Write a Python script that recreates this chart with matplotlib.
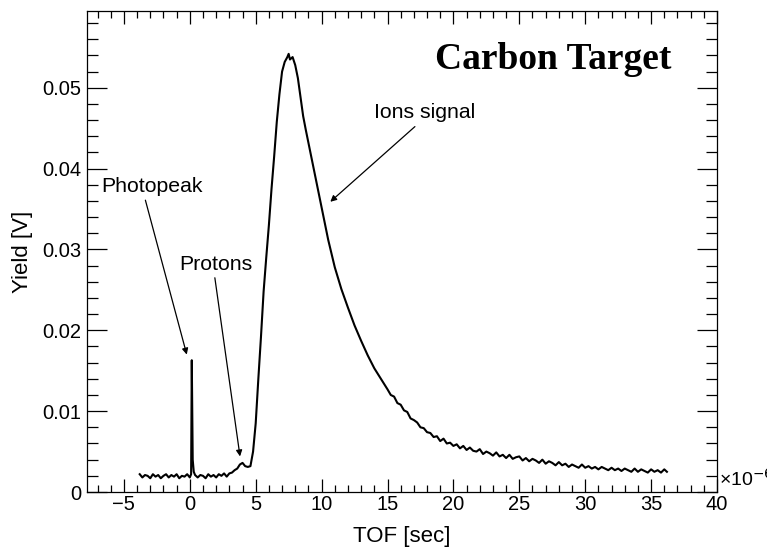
import matplotlib
matplotlib.use("Agg")
import matplotlib.pyplot as plt
from matplotlib.ticker import MultipleLocator

plt.rcParams['font.family'] = ['Liberation Sans', 'DejaVu Sans']

# --- data (TOF in microseconds, yield in volts) ---
tof_pre = [-3.8, -3.6, -3.4, -3.2, -3.0, -2.8, -2.6, -2.4, -2.2, -2.0,
           -1.8, -1.6, -1.4, -1.2, -1.0, -0.8, -0.6, -0.4, -0.2, 0.0,
           0.10, 0.15, 0.22, 0.3, 0.4,
           0.6, 0.8, 1.0, 1.2, 1.4, 1.6, 1.8, 2.0, 2.2, 2.4, 2.6, 2.8,
           3.0, 3.2, 3.4, 3.6, 3.8, 4.0, 4.2, 4.4]
yield_pre = [0.0022, 0.0018, 0.0021, 0.0020, 0.0017, 0.0022, 0.0019, 0.0021, 0.0017, 0.0020,
             0.0022, 0.0018, 0.0021, 0.0019, 0.0022, 0.0017, 0.0020, 0.0019, 0.0022, 0.0018,
             0.0022, 0.0163, 0.0040, 0.0025, 0.0021,
             0.0018, 0.0021, 0.0020, 0.0017, 0.0022, 0.0019, 0.0021, 0.0018, 0.0022, 0.0020, 0.0023, 0.0019,
             0.0023, 0.0024, 0.0027, 0.0029, 0.0034, 0.0036, 0.0032, 0.0031]

tof_pulse = [4.6, 4.8, 5.0, 5.2, 5.4, 5.6, 5.8, 6.0, 6.2, 6.4, 6.6, 6.8,
             7.0, 7.2, 7.4, 7.5, 7.6, 7.8, 8.0, 8.2, 8.4, 8.6, 8.8, 9.0,
             9.5, 10.0, 10.5, 11.0, 11.5, 12.0, 12.5, 13.0, 13.5, 14.0, 14.5]
yield_pulse = [0.0032, 0.0050, 0.0085, 0.0140, 0.0192, 0.0248, 0.0290, 0.0330, 0.0375, 0.0415, 0.0458, 0.0492,
               0.0520, 0.0532, 0.0538, 0.0542, 0.0535, 0.0538, 0.0528, 0.0512, 0.0488, 0.0465, 0.0448, 0.0432,
               0.0392, 0.0352, 0.0312, 0.0278, 0.0251, 0.0228, 0.0206, 0.0187, 0.0169, 0.0153, 0.0140]

tof_tail = [15.0, 15.25, 15.5, 15.75, 16.0, 16.25, 16.5, 16.75, 17.0, 17.25, 17.5, 17.75,
            18.0, 18.25, 18.5, 18.75, 19.0, 19.25, 19.5, 19.75, 20.0, 20.25, 20.5, 20.75,
            21.0, 21.25, 21.5, 21.75, 22.0, 22.25, 22.5, 22.75, 23.0, 23.25, 23.5, 23.75,
            24.0, 24.25, 24.5, 24.75, 25.0, 25.25, 25.5, 25.75, 26.0, 26.25, 26.5, 26.75,
            27.0, 27.25, 27.5, 27.75, 28.0, 28.25, 28.5, 28.75, 29.0, 29.25, 29.5, 29.75,
            30.0, 30.25, 30.5, 30.75, 31.0, 31.25, 31.5, 31.75, 32.0, 32.25, 32.5, 32.75,
            33.0, 33.25, 33.5, 33.75, 34.0, 34.25, 34.5, 34.75, 35.0, 35.25, 35.5, 35.75,
            36.0, 36.2]
yield_tail = [0.0127, 0.0120, 0.0118, 0.0110, 0.0108, 0.0101, 0.0099, 0.0091, 0.0089, 0.0086, 0.0080, 0.0079,
              0.0074, 0.0073, 0.0068, 0.0069, 0.0063, 0.0066, 0.0060, 0.0061, 0.0057, 0.0059, 0.0054, 0.0057,
              0.0052, 0.0055, 0.0051, 0.0050, 0.0053, 0.0047, 0.0050, 0.0048, 0.0045, 0.0049, 0.0044, 0.0046,
              0.0042, 0.0046, 0.0041, 0.0043, 0.0044, 0.0039, 0.0042, 0.0038, 0.0041, 0.0039, 0.0036, 0.0040,
              0.0035, 0.0038, 0.0036, 0.0033, 0.0037, 0.0033, 0.0035, 0.0031, 0.0034, 0.0032, 0.0030, 0.0034,
              0.0030, 0.0032, 0.0029, 0.0031, 0.0028, 0.0031, 0.0029, 0.0027, 0.0030, 0.0027, 0.0029, 0.0026,
              0.0029, 0.0027, 0.0025, 0.0029, 0.0025, 0.0028, 0.0026, 0.0024, 0.0028, 0.0025, 0.0027, 0.0024,
              0.0028, 0.0025]

x_ticks = [-5, 0, 5, 10, 15, 20, 25, 30, 35, 40]
y_ticks = [0, 0.01, 0.02, 0.03, 0.04, 0.05]
y_tick_labels = ["0", "0.01", "0.02", "0.03", "0.04", "0.05"]

tof = tof_pre + tof_pulse + tof_tail
yld = yield_pre + yield_pulse + yield_tail

fig = plt.figure(figsize=(7.67, 5.49), dpi=100)
ax = fig.add_axes([87/767, 57/549, 630/767, 481/549])

ax.plot(tof, yld, color='black', lw=1.5)

ax.set_xlim(-7.8, 40)
ax.set_ylim(0, 0.0595)
ax.set_xticks(x_ticks)
ax.set_xticklabels([f"{t:g}".replace('-', '\u2212') for t in x_ticks])
ax.set_yticks(y_ticks)
ax.set_yticklabels(y_tick_labels)
ax.xaxis.set_minor_locator(MultipleLocator(1))
ax.yaxis.set_minor_locator(MultipleLocator(0.002))

ax.tick_params(axis='x', which='major', direction='in', length=9.7, width=0.9,
               top=True, bottom=True, labelsize=14.5, pad=2)
ax.tick_params(axis='x', which='minor', direction='in', length=5, width=0.9,
               top=True, bottom=True)
ax.tick_params(axis='y', which='major', direction='in', length=14.4, width=0.9,
               left=True, right=True, labelsize=14.5, pad=4)
ax.tick_params(axis='y', which='minor', direction='in', length=7.9, width=0.9,
               left=True, right=True)
for s in ax.spines.values():
    s.set_linewidth(0.9)

ax.set_xlabel("TOF [sec]", fontsize=16, labelpad=9)
ax.set_ylabel("Yield [V]", fontsize=16, labelpad=7)

ax.text(1.003, 0.005, "\u00d710$^{\u22126}$", transform=ax.transAxes,
        fontsize=14, ha='left', va='bottom')

ax.text(27.6, 0.0535, "Carbon Target", fontsize=27, fontweight='bold',
        family=['Liberation Serif', 'DejaVu Serif'], ha='center', va='center')

arrowprops = dict(arrowstyle='-|>', color='black', lw=0.9, mutation_scale=9,
                  shrinkA=0, shrinkB=0)
ax.annotate("Photopeak", xy=(-0.23, 0.0170), xytext=(-6.75, 0.0371),
            fontsize=15.3, ha='left', va='baseline')
ax.annotate("", xy=(-0.23, 0.0170), xytext=(-3.37, 0.0361), arrowprops=arrowprops)
ax.annotate("Protons", xy=(3.81, 0.0044), xytext=(-0.82, 0.0274),
            fontsize=15.3, ha='left', va='baseline')
ax.annotate("", xy=(3.81, 0.0044), xytext=(1.9, 0.0265), arrowprops=arrowprops)
ax.annotate("Ions signal", xy=(10.66, 0.0359), xytext=(13.95, 0.0463),
            fontsize=15.3, ha='left', va='baseline')
ax.annotate("", xy=(10.66, 0.0359), xytext=(17.08, 0.0452), arrowprops=arrowprops)

fig.savefig("out.png", dpi=100)
